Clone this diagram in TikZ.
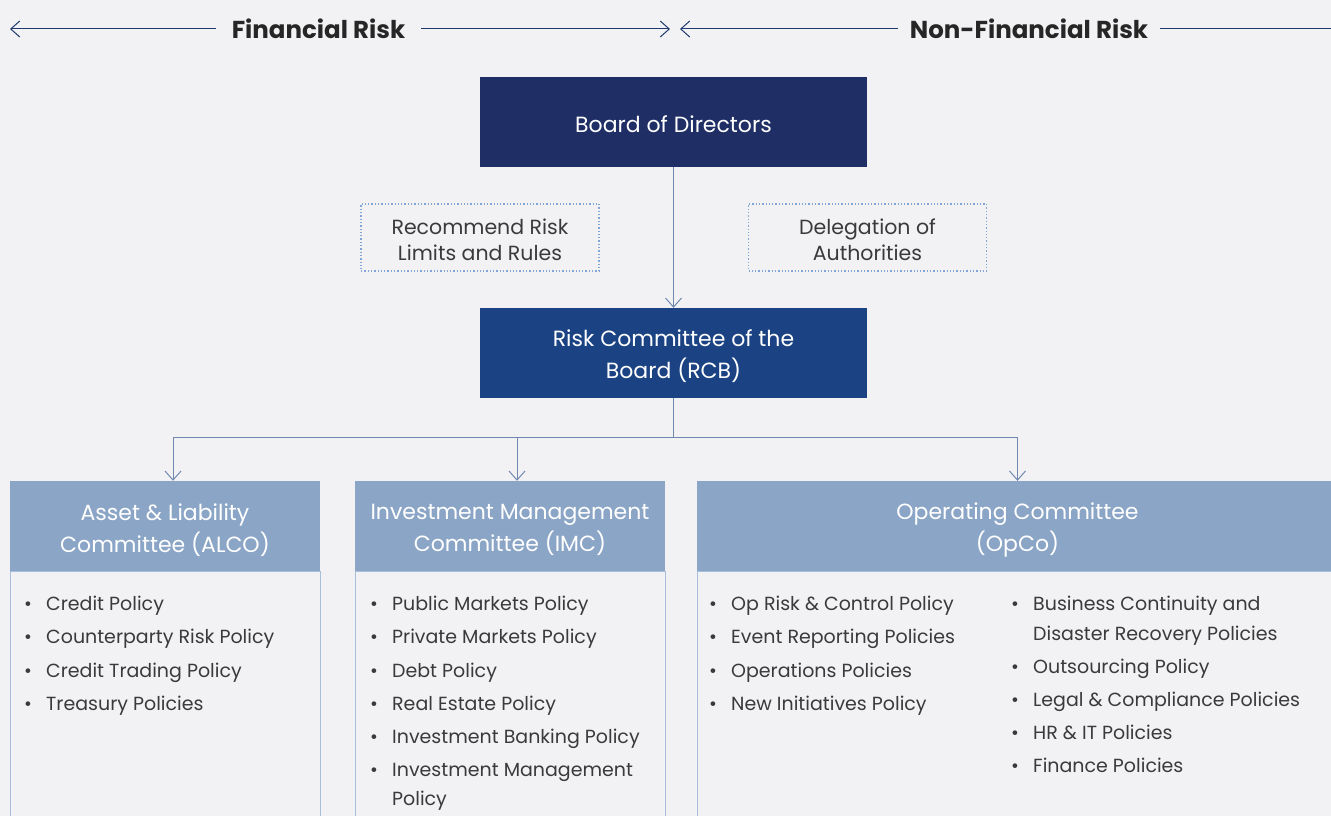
\documentclass[tikz,border=0pt]{standalone}
\usepackage{fontspec}
\setmainfont{Poppins}
\usetikzlibrary{arrows.meta,positioning}

\definecolor{bgcol}{HTML}{F2F2F4}
\definecolor{boardblue}{HTML}{1F2F65}
\definecolor{rcbblue}{HTML}{1B4384}
\definecolor{headblue}{HTML}{8BA5C6}
\definecolor{linkblue}{HTML}{7088B0}
\definecolor{dotblue}{HTML}{7FA6D6}
\definecolor{edgeblue}{HTML}{A9BEDB}
\definecolor{txtgray}{HTML}{3A3A3C}
\definecolor{navyline}{HTML}{1F3A6E}

\tikzset{
  topbox/.style={fill=#1, minimum width=387pt, minimum height=90pt, inner sep=0pt},
  notebox/.style={draw=dotblue, dotted, line width=1.3pt, minimum width=238pt,
    minimum height=67pt, inner sep=0pt},
  headbox/.style={fill=headblue, minimum height=90pt, inner sep=0pt},
  boxtext/.style={text=white, align=center, inner sep=0pt,
    font=\fontsize{22}{32}\selectfont},
  notetext/.style={text=txtgray, align=center, inner sep=0pt,
    font=\fontsize{20.5}{26}\selectfont},
  bodybox/.style={draw=edgeblue, line width=1pt, minimum height=260pt, inner sep=0pt},
  riskhead/.style={text=black!85, font=\bfseries\fontsize{24.5}{28}\selectfont},
  policy/.style={anchor=base west, inner sep=0pt, text=txtgray,
    font=\fontsize{19}{22}\selectfont},
  link/.style={draw=linkblue, line width=1pt},
  tip/.style={-{Straight Barb[length=9pt,width=16pt,line width=1pt]}},
  sidearrow/.style={draw=navyline, line width=1pt},
}
\newcommand{\blt}{\makebox[22pt][l]{\textbullet}}

\begin{document}
\begin{tikzpicture}[x=1pt, y=-1pt]
\useasboundingbox (0,0) rectangle (1331,816);
\fill[bgcol] (0,0) rectangle (1331,816);

% risk headings
\node[riskhead, inner xsep=16pt] (fin) at (318.5,29) {Financial Risk};
\node[riskhead, inner xsep=12pt] (nonfin) at (1029,29) {Non-Financial Risk};
\coordinate (finleft) at (10,29);
\coordinate (finright) at (670,29);
\coordinate (nonleft) at (680,29);
\coordinate (nonright) at (1340,29);
\draw[sidearrow, tip] (fin.west) -- (finleft);
\draw[sidearrow, tip] (fin.east) -- (finright);
\draw[sidearrow, tip] (nonfin.west) -- (nonleft);
\draw[sidearrow] (nonfin.east) -- (nonright);

% board and risk committee
\node[topbox=boardblue] (board) at (673.5,122) {};
\node[boxtext] (boardtext) at (673.5,124) {Board of Directors};
\node[topbox=rcbblue] (rcb) at (673.5,353) {};
\node[boxtext] (rcbtext) at (673.5,356) {Risk Committee of the\\Board (RCB)};
\node[notebox] (recommend) at (480,237.5) {};
\node[notetext] (recommendtext) at (480,239.5) {Recommend Risk\\Limits and Rules};
\node[notebox] (delegation) at (867.5,237.5) {};
\node[notetext] (delegationtext) at (867.5,239.5) {Delegation of\\Authorities};
\draw[link, tip] (board) -- (rcb);

% committees
\node[headbox, minimum width=310pt] (alco) at (165,526) {};
\node[headbox, minimum width=310pt] (imc) at (510,526) {};
\node[headbox, minimum width=641pt] (opco) at (1017.5,526) {};
\node[boxtext] (alcotext) at (165,530) {Asset \& Liability\\Committee (ALCO)};
\node[boxtext] (imctext) at (510,530) {Investment Management\\Committee (IMC)};
\node[boxtext] (opcotext) at (1017.5,530) {Operating Committee\\(OpCo)};
\node[bodybox, minimum width=310pt, anchor=north] (alcobody) at (alco.south) {};
\node[bodybox, minimum width=310pt, anchor=north] (imcbody) at (imc.south) {};
\node[bodybox, minimum width=641pt, anchor=north] (opcobody) at (opco.south) {};

\path (rcb.south) ++(0,39) coordinate (split);
\draw[link] (rcb.south) -- (split);
\draw[link, tip] (split) -| ([xshift=8pt]alco.north);
\draw[link, tip] (split) -| ([xshift=7pt]imc.north);
\draw[link, tip] (split) -| (opco.north);

% policy lists
\foreach \yy/\txt in {610/Credit Policy, 643.5/Counterparty Risk Policy,
    677/Credit Trading Policy, 710/Treasury Policies}
  \node[policy] at (24,\yy) {\blt\txt};
\foreach \yy/\txt in {610/Public Markets Policy, 643.5/Private Markets Policy,
    677/Debt Policy, 710/Real Estate Policy, 743/Investment Banking Policy,
    776/Investment Management}
  \node[policy] at (370,\yy) {\blt\txt};
\node[policy] (imcwrap) at (370,805) {\hspace*{22pt}Policy};
\foreach \yy/\txt in {610/Op Risk \& Control Policy, 643.5/Event Reporting Policies,
    677/Operations Policies, 710/New Initiatives Policy}
  \node[policy] at (709,\yy) {\blt\txt};
\foreach \yy/\txt in {610/Business Continuity and, 673/Outsourcing Policy,
    706/Legal \& Compliance Policies, 739/HR \& IT Policies, 772/Finance Policies}
  \node[policy] at (1011,\yy) {\blt\txt};
\node[policy] (opcowrap) at (1011,640) {\hspace*{22pt}Disaster Recovery Policies};
\end{tikzpicture}
\end{document}
